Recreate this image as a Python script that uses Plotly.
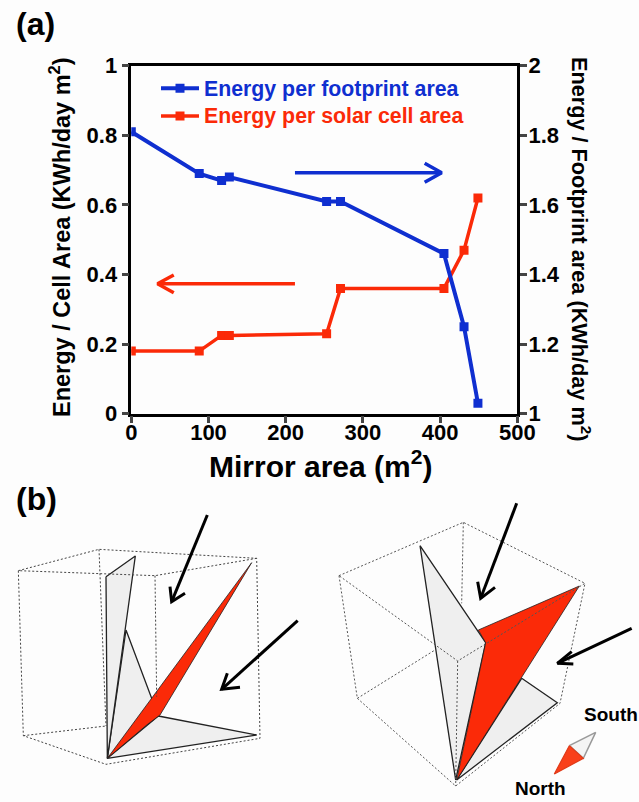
import plotly.graph_objects as go

BG = "#fdfdfd"
BLUE = "#0f2fd0"
RED = "#fb2a08"
LIGHT = "#efefef"
FONT = "Liberation Sans"
W, H = 639, 802

mirror_area = [0, 88, 117, 127, 253, 271, 405, 431, 449]
energy_footprint = [1.81, 1.69, 1.67, 1.68, 1.61, 1.61, 1.46, 1.25, 1.03]
energy_cell = [0.18, 0.18, 0.225, 0.225, 0.23, 0.36, 0.36, 0.47, 0.62]
x_ticks = [0, 100, 200, 300, 400, 500]
left_ticks = [0, 0.2, 0.4, 0.6, 0.8, 1]
left_labels = ["0", "0.2", "0.4", "0.6", "0.8", "1"]
right_ticks = [1, 1.2, 1.4, 1.6, 1.8, 2]
right_labels = ["1", "1.2", "1.4", "1.6", "1.8", "2"]

blue_arrow_x = [212, 402, None, 380, 402, 380]
blue_arrow_y = [0.6925, 0.6925, None, 0.7195, 0.6925, 0.665]
red_arrow_x = [212, 34, None, 55, 34, 55]
red_arrow_y = [0.3736, 0.3736, None, 0.3986, 0.3736, 0.3477]

# Panel (b), left view
L_back_x = [55, 297, 770, None, 297, 318, None, 70, 318]
L_back_y = [272, 208, 235, None, 208, 738, None, 767, 738]
L_front_x = [770, 465, 55, 70, 318, 780, 770, None, 465, 470]
L_front_y = [235, 287, 272, 767, 853, 775, 235, None, 287, 650]
L_mirror1_x = [318, 406, 322, 318]
L_mirror1_y = [290, 228, 835, 290]
L_mirror2_x = [378, 455, 475, 322, 378]
L_mirror2_y = [450, 655, 708, 835, 450]
L_mirror3_x = [475, 770, 322, 475]
L_mirror3_y = [708, 765, 835, 708]
L_cell_x = [322, 455, 755, 480, 440, 322]
L_cell_y = [835, 655, 248, 705, 735, 835]
L_arrow1_x = [622, 515, None, 510, 515, 555]
L_arrow1_y = [105, 365, None, 320, 365, 340]
L_arrow2_x = [893, 665, None, 682, 665, 720]
L_arrow2_y = [422, 628, None, 580, 628, 622]

# Panel (b), right view
R_back_x = [57, 430, 795, None, 430, 425, None, 112, 345]
R_back_y = [287, 127, 310, None, 127, 370, None, 655, 510]
R_front_x = [57, 112, 407, 720, 795, 413, 57, None, 413, 407]
R_front_y = [287, 655, 918, 670, 310, 543, 287, None, 543, 918]
R_mirror1_x = [300, 497, 407, 300]
R_mirror1_y = [197, 488, 900, 197]
R_mirror3_x = [605, 712, 410, 605]
R_mirror3_y = [595, 668, 900, 595]
R_cell_x = [475, 778, 410, 497, 475]
R_cell_y = [450, 318, 900, 488, 450]
R_arrow1_x = [590, 482, None, 473, 482, 525]
R_arrow1_y = [70, 355, None, 305, 355, 322]
R_arrow2_x = [935, 712, None, 755, 712, 760]
R_arrow2_y = [445, 550, None, 515, 550, 552]
compass_gray_x = [748, 827, 790, 748]
compass_gray_y = [797, 757, 835, 797]
compass_red_x = [748, 790, 703, 748]
compass_red_y = [797, 835, 882, 797]


def px(x):
    return x / W


def py(y):
    return 1 - y / H


fig = go.Figure()


def add(x, y, xa, ya, color="black", width=1.5, fill=None, dash=None):
    fig.add_trace(go.Scatter(
        x=x, y=y, xaxis=xa, yaxis=ya, mode="lines", showlegend=False, hoverinfo="skip",
        line=dict(color=color, width=width, dash=dash),
        fill="toself" if fill else None, fillcolor=fill,
    ))


# Chart
fig.add_trace(go.Scatter(
    x=mirror_area, y=energy_footprint, xaxis="x", yaxis="y2", mode="lines+markers",
    name=f'<span style="color:{BLUE};font-size:21.3px">Energy per footprint area</span>',
    line=dict(color=BLUE, width=4), marker=dict(symbol="square", size=9, color=BLUE),
))
fig.add_trace(go.Scatter(
    x=mirror_area, y=energy_cell, xaxis="x", yaxis="y", mode="lines+markers",
    name=f'<span style="color:{RED};font-size:21.3px">Energy per solar cell area</span>',
    line=dict(color=RED, width=3.5), marker=dict(symbol="square", size=9, color=RED),
))
add(blue_arrow_x, blue_arrow_y, "x", "y", BLUE, 3.5)
add(red_arrow_x, red_arrow_y, "x", "y", RED, 3.5)

# Left view
DASH = "2px,2px"
add(L_back_x, L_back_y, "x3", "y3", "#444", 1, dash=DASH)
add(L_mirror2_x, L_mirror2_y, "x3", "y3", "#222", 1.3, fill=LIGHT)
add(L_mirror1_x, L_mirror1_y, "x3", "y3", "#222", 1.3, fill=LIGHT)
add(L_mirror3_x, L_mirror3_y, "x3", "y3", "#222", 1.3, fill=LIGHT)
add(L_cell_x, L_cell_y, "x3", "y3", "#222", 0.8, fill=RED)
add(L_front_x, L_front_y, "x3", "y3", "#444", 1, dash=DASH)
add(L_arrow1_x, L_arrow1_y, "x3", "y3", "black", 3)
add(L_arrow2_x, L_arrow2_y, "x3", "y3", "black", 3)

# Right view
add(R_back_x, R_back_y, "x4", "y4", "#555", 1, dash=DASH)
add(R_mirror3_x, R_mirror3_y, "x4", "y4", "#222", 1.3, fill=LIGHT)
add(R_mirror1_x, R_mirror1_y, "x4", "y4", "#222", 1.3, fill=LIGHT)
add(R_cell_x, R_cell_y, "x4", "y4", "#222", 0.8, fill=RED)
add(R_front_x, R_front_y, "x4", "y4", "#555", 1, dash=DASH)
add(R_arrow1_x, R_arrow1_y, "x4", "y4", "black", 3)
add(R_arrow2_x, R_arrow2_y, "x4", "y4", "black", 3)
add(compass_gray_x, compass_gray_y, "x4", "y4", "#999", 1.5, fill="#f4f4f4")
add(compass_red_x, compass_red_y, "x4", "y4", "#e03a18", 1.2, fill="#f9401a")

hidden = dict(visible=False, fixedrange=True, automargin=False)
tick_font = dict(family=FONT, size=22, color="black", weight="bold")
bold = lambda size: dict(family=FONT, size=size, color="black", weight="bold")

fig.update_layout(
    width=W, height=H, autosize=False,
    margin=dict(l=0, r=0, t=0, b=0),
    paper_bgcolor=BG, plot_bgcolor=BG,
    font=dict(family=FONT, color="black"),
    xaxis=dict(
        domain=[px(131.3), px(517.3)], range=[0, 500], tickvals=x_ticks, ticks="outside",
        ticklen=7, tickwidth=2.5, linecolor="black", linewidth=2.5, mirror=True,
        showgrid=False, zeroline=False, tickfont=tick_font, anchor="y", automargin=False,
        ticklabelstandoff=-10,
    ),
    yaxis=dict(
        domain=[py(413.7), py(65.7)], range=[0, 1], tickvals=left_ticks,
        ticktext=left_labels, ticks="outside", ticklen=7, tickwidth=2.5, linecolor="black",
        linewidth=2.5, showgrid=False, zeroline=False, tickfont=tick_font, anchor="x",
        automargin=False,
    ),
    yaxis2=dict(
        overlaying="y", side="right", range=[1, 2], tickvals=right_ticks, ticktext=right_labels,
        ticks="outside", ticklen=7, tickwidth=2.5, linecolor="black", linewidth=2.5,
        showgrid=False, zeroline=False, tickfont=tick_font, anchor="x", automargin=False,
        ticklabelstandoff=-3,
    ),
    xaxis3=dict(domain=[0, px(320)], range=[0, 960], anchor="y3", **hidden),
    yaxis3=dict(domain=[0, py(480)], range=[966, 0], anchor="x3", **hidden),
    xaxis4=dict(domain=[px(320), 1], range=[0, 957], anchor="y4", **hidden),
    yaxis4=dict(domain=[0, py(480)], range=[966, 0], anchor="x4", **hidden),
    legend=dict(
        x=px(156), y=py(69.5), xanchor="left", yanchor="top", itemwidth=38,
        bgcolor="rgba(0,0,0,0)", font=dict(family=FONT, size=19, weight="bold"),
    ),
    annotations=[
        dict(text="(a)", xref="paper", yref="paper", x=px(14), y=py(24), xanchor="left",
             yanchor="middle", showarrow=False, font=bold(32)),
        dict(text="(b)", xref="paper", yref="paper", x=px(14), y=py(499), xanchor="left",
             yanchor="middle", showarrow=False, font=bold(32)),
        dict(text="Mirror area (m<sup>2</sup>)", xref="paper", yref="paper", x=px(320), y=py(464),
             xanchor="center", yanchor="middle", showarrow=False, font=bold(30)),
        dict(text="Energy / Cell Area (KWh/day m<sup>2</sup>)", xref="paper", yref="paper", x=px(60),
             y=py(237), xanchor="center", yanchor="middle", textangle=-90, showarrow=False,
             font=bold(23.5)),
        dict(text="Energy / Footprint area (KWh/day m<sup>2</sup>)", xref="paper", yref="paper", x=px(581),
             y=py(249), xanchor="center", yanchor="middle", textangle=90, showarrow=False,
             font=bold(21.7)),
        dict(text="South", xref="x4", yref="y4", x=872, y=703, showarrow=False, font=bold(19)),
        dict(text="North", xref="x4", yref="y4", x=662, y=925, showarrow=False, font=bold(19)),
    ],
)

fig.write_html("out.html", config={"displayModeBar": False},
               post_script="document.body.style.margin='0';")
